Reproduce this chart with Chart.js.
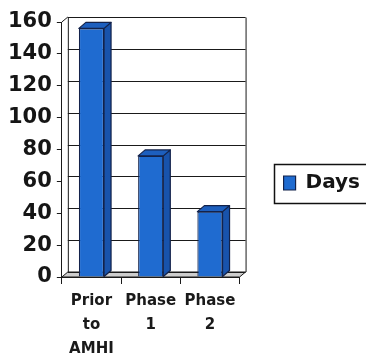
<!DOCTYPE html>
<html>
<head>
<meta charset="utf-8">
<script src="https://cdn.jsdelivr.net/npm/chart.js@4.4.0/dist/chart.umd.min.js"></script>
<style>
  html, body { margin: 0; padding: 0; background: #fff; }
  #wrap { width: 366px; height: 356px; }
</style>
</head>
<body>
<div id="wrap"><canvas id="chart" width="366" height="356"></canvas></div>
<script>
// Data
const categories = [['Prior', 'to', 'AMHI'], ['Phase', '1'], ['Phase', '2']];
const seriesLabel = 'Days';
const days = [156, 76, 41];
const yMin = 0, yMax = 160, yStep = 20;

// 3D look: back wall offset and bar depth (px)
const wall = { dx: 6, dy: 5 };
const bar = { dx: 7, dy: 6 };

const frontBlue = '#1f6bd0';
const sideBlue = '#1853ac';
const topBlue = '#1d5fbe';
const edge = '#13224a';

// draws floor, back wall + gridlines behind bars, then side/top faces on bars
const threeD = {
  id: 'threeD',
  beforeDatasetsDraw(chart) {
    const { ctx, chartArea: a, scales: { y } } = chart;
    ctx.save();
    ctx.strokeStyle = '#1a1a1a';
    ctx.lineWidth = 1;
    // floor
    ctx.beginPath();
    ctx.moveTo(a.left, a.bottom);
    ctx.lineTo(a.right, a.bottom);
    ctx.lineTo(a.right + wall.dx, a.bottom - wall.dy);
    ctx.lineTo(a.left + wall.dx, a.bottom - wall.dy);
    ctx.closePath();
    ctx.fillStyle = '#cdcdcd';
    ctx.fill();
    ctx.stroke();
    // back wall gridlines
    y.ticks.forEach(t => {
      const py = Math.round(y.getPixelForValue(t.value) - wall.dy) + 0.5;
      ctx.beginPath();
      ctx.moveTo(a.left + wall.dx, py);
      ctx.lineTo(a.right + wall.dx, py);
      ctx.stroke();
    });
    // wall edges
    const top = Math.round(a.top - wall.dy) + 0.5;
    const bot = a.bottom - wall.dy;
    ctx.beginPath();
    ctx.moveTo(a.left + wall.dx + 0.5, top);
    ctx.lineTo(a.left + wall.dx + 0.5, bot);
    ctx.moveTo(a.right + wall.dx + 0.5, top);
    ctx.lineTo(a.right + wall.dx + 0.5, bot);
    ctx.moveTo(a.left, a.top);
    ctx.lineTo(a.left + wall.dx, a.top - wall.dy);
    ctx.stroke();
    ctx.restore();
  },
  afterDatasetsDraw(chart) {
    const { ctx } = chart;
    const meta = chart.getDatasetMeta(0);
    ctx.save();
    ctx.lineWidth = 1.2;
    ctx.strokeStyle = edge;
    ctx.lineJoin = 'round';
    meta.data.forEach(el => {
      const { x, y, base, width } = el.getProps(['x', 'y', 'base', 'width'], true);
      const l = x - width / 2, r = x + width / 2;
      // side
      ctx.beginPath();
      ctx.moveTo(r, y);
      ctx.lineTo(r + bar.dx, y - bar.dy);
      ctx.lineTo(r + bar.dx, base - bar.dy);
      ctx.lineTo(r, base);
      ctx.closePath();
      ctx.fillStyle = sideBlue;
      ctx.fill();
      ctx.stroke();
      // top
      ctx.beginPath();
      ctx.moveTo(l, y);
      ctx.lineTo(l + bar.dx, y - bar.dy);
      ctx.lineTo(r + bar.dx, y - bar.dy);
      ctx.lineTo(r, y);
      ctx.closePath();
      ctx.fillStyle = topBlue;
      ctx.fill();
      ctx.stroke();
    });
    ctx.restore();
  },
  afterDraw(chart) {
    // box round the legend
    const hit = chart.legend.legendHitBoxes[0];
    if (!hit) return;
    const { ctx } = chart;
    const bx = Math.round(hit.left - 10) + 0.5;
    const by = Math.round(hit.top + hit.height / 2 - 19.5) + 0.5;
    ctx.save();
    ctx.strokeStyle = '#111';
    ctx.lineWidth = 1.5;
    ctx.strokeRect(bx, by, chart.width - bx + 10, 39);
    ctx.restore();
  }
};

new Chart(document.getElementById('chart'), {
  type: 'bar',
  data: {
    labels: categories,
    datasets: [{
      label: seriesLabel,
      data: days,
      backgroundColor: frontBlue,
      borderColor: edge,
      borderWidth: 1.2,
      barPercentage: 0.85,
      categoryPercentage: 0.5
    }]
  },
  options: {
    responsive: false,
    animation: false,
    layout: { padding: { left: 3, top: 10, right: -4, bottom: 0 } },
    plugins: {
      tooltip: { enabled: false },
      legend: {
        position: 'right',
        maxWidth: 120,
        labels: {
          color: '#151515',
          font: { family: 'DejaVu Sans', weight: 'bold', size: 20 },
          boxWidth: 12,
          boxHeight: 14,
          padding: 10
        }
      }
    },
    scales: {
      x: {
        grid: { display: true, drawOnChartArea: false, drawTicks: true, tickLength: 7, color: '#1a1a1a', offset: true },
        border: { display: true, color: '#1a1a1a', width: 1 },
        ticks: {
          color: '#1a1a1a',
          padding: 5,
          maxRotation: 0,
          autoSkip: false,
          font: { family: 'DejaVu Sans', weight: 'bold', size: 15, lineHeight: 24 / 15 }
        },
        afterFit(s) { s.height = 79; }
      },
      y: {
        min: yMin,
        max: yMax,
        grid: { display: true, drawOnChartArea: false, drawTicks: true, tickLength: 5, color: '#1a1a1a' },
        border: { display: true, color: '#1a1a1a', width: 1 },
        ticks: {
          stepSize: yStep,
          color: '#151515',
          padding: 5,
          font: { family: 'DejaVu Sans', weight: 'bold', size: 21 }
        },
        afterFit(s) { s.paddingTop = 22; }
      },
      spacer: {
        type: 'linear',
        position: 'right',
        display: true,
        grid: { display: false },
        border: { display: false },
        ticks: { display: false },
        afterFit(s) { s.width = 34; }
      }
    }
  },
  plugins: [threeD]
});
</script>
</body>
</html>
